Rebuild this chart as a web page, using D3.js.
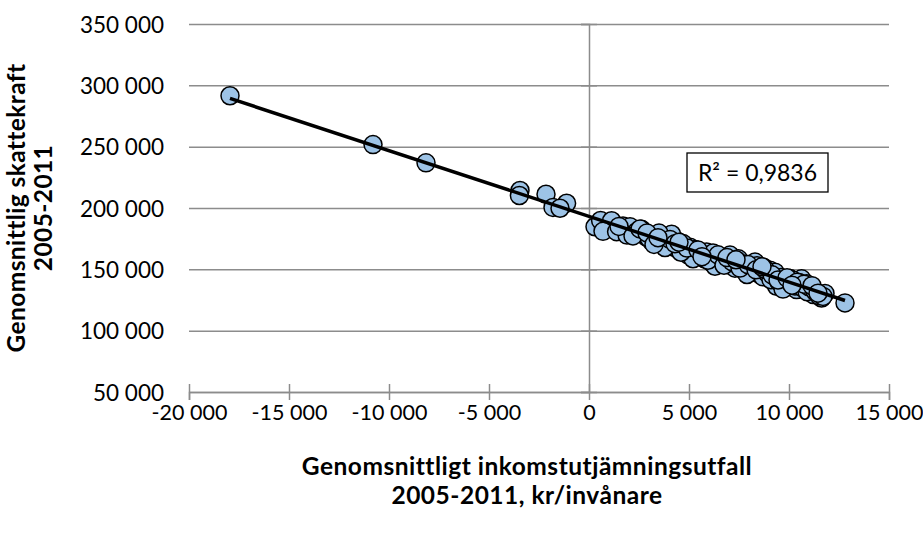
<!DOCTYPE html>
<html>
<head>
<meta charset="utf-8">
<script src="https://cdn.jsdelivr.net/npm/d3@7"></script>
<style>
  body { margin: 0; background: #fff; }
  svg text { font-family: Lato, "Open Sans", sans-serif; fill: #000; }
</style>
</head>
<body>
<div id="chart"></div>
<script>
// Data (x: inkomstutjämning kr/inv, y: skattekraft)
const xValues = [
  -17950, -10800, -8150, -3450, -3480, -2150, -1120, -1800, -1450,
  300, 580, 1130, 700, 1380, 1700, 2050, 1900, 2630, 2880, 3380, 3130,
  3950, 3700, 4380, 4550, 4130, 5050, 4970, 5880, 5720, 6380, 7050, 6970,
  7470, 7630, 8300, 8220, 8720, 9050, 8550, 9380, 8720, 9220, 9380, 10050,
  9970, 10630, 11130, 11220, 11630, 11800, 12800, 10380, 10880,
  2400, 2700, 3000, 3300, 3500, 3600, 3900, 4200, 4400, 4700, 4800, 5100,
  5300, 5400, 5600, 5800, 6000, 6100, 6200, 6500, 6600, 6800, 7000, 7200,
  7300, 7500, 7700, 7800, 8000, 8100, 8400, 8500, 8700, 8900, 9100, 9300,
  9500, 9600, 9800, 10000, 10200, 10300, 10500, 10700, 10900, 11000, 11300,
  11500, 11700, 6300, 5200, 4600, 3800, 7900, 9700, 1500,
  2200, 2550, 2900, 3250, 4050, 4300, 4900, 5450, 5950, 6450, 6750, 7150,
  7550, 7950, 8350, 8800, 9150, 9450, 9900, 10400, 10750, 11150, 11450, 6900,
  5650, 4500, 8650, 3450, 10150, 7350
];
const yValues = [
  291500, 251700, 236800, 214300, 210200, 211200, 203900, 200500, 199800,
  184700, 189800, 189600, 181000, 180700, 185300, 184800, 177900, 182600, 176200, 177800, 172800,
  176200, 170400, 173400, 169700, 178600, 168000, 161700, 164100, 159300, 160200, 161600, 153800,
  158600, 152300, 155900, 149800, 151800, 149300, 145600, 145100, 146500, 143700, 136200, 142500,
  136000, 142300, 133300, 129400, 126600, 130400, 122600, 133500, 138300,
  180900, 179000, 175500, 174200, 179600, 173200, 171800, 168400, 166900, 171000, 165200, 164300,
  166200, 160900, 162800, 158400, 160900, 155900, 163300, 157200, 155100, 158700, 157000, 154700,
  150900, 155600, 149800, 154200, 151700, 147500, 152900, 148600, 143900, 147200, 141500, 147700,
  139700, 143300, 140900, 138900, 141200, 136400, 139200, 134600, 131800, 135800, 132100,
  128500, 127900, 152500, 158600, 163900, 167800, 145800, 133900, 185000,
  177200, 182900, 179700, 170300, 174400, 170900, 167300, 165800, 157400, 161800, 153300, 156300,
  151000, 153900, 149600, 150000, 145500, 141300, 143100, 139500, 137900, 136700, 130600, 159600,
  160300, 172100, 152100, 175800, 137100, 157800
];
const xTicks = [-20000, -15000, -10000, -5000, 0, 5000, 10000, 15000];
const yTicks = [50000, 100000, 150000, 200000, 250000, 300000, 350000];
const rSquaredLabel = 'R² = 0,9836';
const xTitleLines = ['Genomsnittligt inkomstutjämningsutfall', '2005-2011, kr/invånare'];
const yTitleLines = ['Genomsnittlig skattekraft', '2005-2011'];

const width = 923;
const height = 538;
const plot = { left: 189, right: 889, top: 24, bottom: 392 };
const gridColor = '#8c8c8c';

// Swedish number format: space as thousands separator, plain hyphen minus
const sv = d3.formatLocale({ decimal: ',', thousands: ' ', grouping: [3], currency: ['', ' kr'], minus: '-' });
const fmt = sv.format(',d');

const x = d3.scaleLinear().domain([-20000, 15000]).range([plot.left, plot.right]);
const y = d3.scaleLinear().domain([50000, 350000]).range([plot.bottom, plot.top]);

const svg = d3.select('#chart')
  .append('svg')
  .attr('width', width)
  .attr('height', height)
  .style('background', '#fff');

// Horizontal gridlines
svg.append('g')
  .attr('class', 'grid')
  .attr('transform', `translate(${plot.left},0)`)
  .call(d3.axisLeft(y).tickValues(yTicks).tickSize(-(plot.right - plot.left)).tickFormat(''))
  .call(g => g.select('.domain').remove())
  .call(g => g.selectAll('line').attr('stroke', gridColor).attr('stroke-width', 1.5));

// Y tick labels sit to the left of the plot area
svg.append('g')
  .attr('class', 'y-labels')
  .attr('transform', `translate(${plot.left},0)`)
  .call(d3.axisLeft(y).tickValues(yTicks).tickSize(0).tickPadding(25).tickFormat(fmt))
  .call(g => g.select('.domain').remove())
  .call(g => g.selectAll('text').style('font-size', '22.5px').attr('dy', '0.36em'));

// Vertical axis crosses at x = 0, tick marks only
svg.append('g')
  .attr('class', 'y-axis')
  .attr('transform', `translate(${x(0)},0)`)
  .call(d3.axisLeft(y).tickValues(yTicks).tickSize(8).tickFormat(''))
  .call(g => g.select('.domain').attr('stroke', gridColor).attr('stroke-width', 1.5))
  .call(g => g.selectAll('.tick line').attr('x1', 8).attr('stroke', gridColor).attr('stroke-width', 1.5));

// X axis along the bottom, ticks crossing the line
svg.append('g')
  .attr('class', 'x-axis')
  .attr('transform', `translate(0,${plot.bottom})`)
  .call(d3.axisBottom(x).tickValues(xTicks).tickSize(8).tickPadding(5).tickFormat(fmt))
  .call(g => g.select('.domain').attr('stroke', gridColor).attr('stroke-width', 1.5))
  .call(g => g.selectAll('.tick line').attr('y1', -8).attr('stroke', gridColor).attr('stroke-width', 1.5))
  .call(g => g.selectAll('text').style('font-size', '21.5px'));

// Markers
const points = xValues.map((v, i) => ({ x: v, y: yValues[i] }));
svg.append('g')
  .attr('class', 'points')
  .selectAll('circle')
  .data(points)
  .enter()
  .append('circle')
  .attr('cx', d => x(d.x))
  .attr('cy', d => y(d.y))
  .attr('r', 9)
  .attr('fill', '#9dc3e6')
  .attr('stroke', '#000')
  .attr('stroke-width', 1.5);

// Linear trendline (least squares) over the data range
const mx = d3.mean(xValues);
const my = d3.mean(yValues);
const slope = d3.sum(points, d => (d.x - mx) * (d.y - my)) / d3.sum(points, d => (d.x - mx) ** 2);
const intercept = my - slope * mx;
const [x0, x1] = d3.extent(xValues);
svg.append('line')
  .attr('x1', x(x0)).attr('y1', y(intercept + slope * x0))
  .attr('x2', x(x1)).attr('y2', y(intercept + slope * x1))
  .attr('stroke', '#000')
  .attr('stroke-width', 3.5);

// R² label box
const rBox = svg.append('g').attr('transform', 'translate(687,153)');
rBox.append('rect')
  .attr('width', 141)
  .attr('height', 39)
  .attr('fill', '#fff')
  .attr('stroke', '#000')
  .attr('stroke-width', 1.3);
rBox.append('text')
  .attr('x', 70.5)
  .attr('y', 28)
  .attr('text-anchor', 'middle')
  .style('font-size', '23px')
  .text(rSquaredLabel);

// Axis titles
svg.append('g')
  .selectAll('text')
  .data(xTitleLines)
  .enter()
  .append('text')
  .attr('x', 527)
  .attr('y', (d, i) => 475 + i * 29)
  .attr('text-anchor', 'middle')
  .style('font-size', '24.5px')
  .style('font-weight', 700)
  .style('letter-spacing', '0.5px')
  .text(d => d);

svg.append('g')
  .selectAll('text')
  .data(yTitleLines)
  .enter()
  .append('text')
  .attr('transform', (d, i) => `translate(${25 + i * 27},208) rotate(-90)`)
  .attr('text-anchor', 'middle')
  .style('font-size', '24.5px')
  .style('font-weight', 700)
  .style('letter-spacing', '0.4px')
  .text(d => d);
</script>
</body>
</html>
